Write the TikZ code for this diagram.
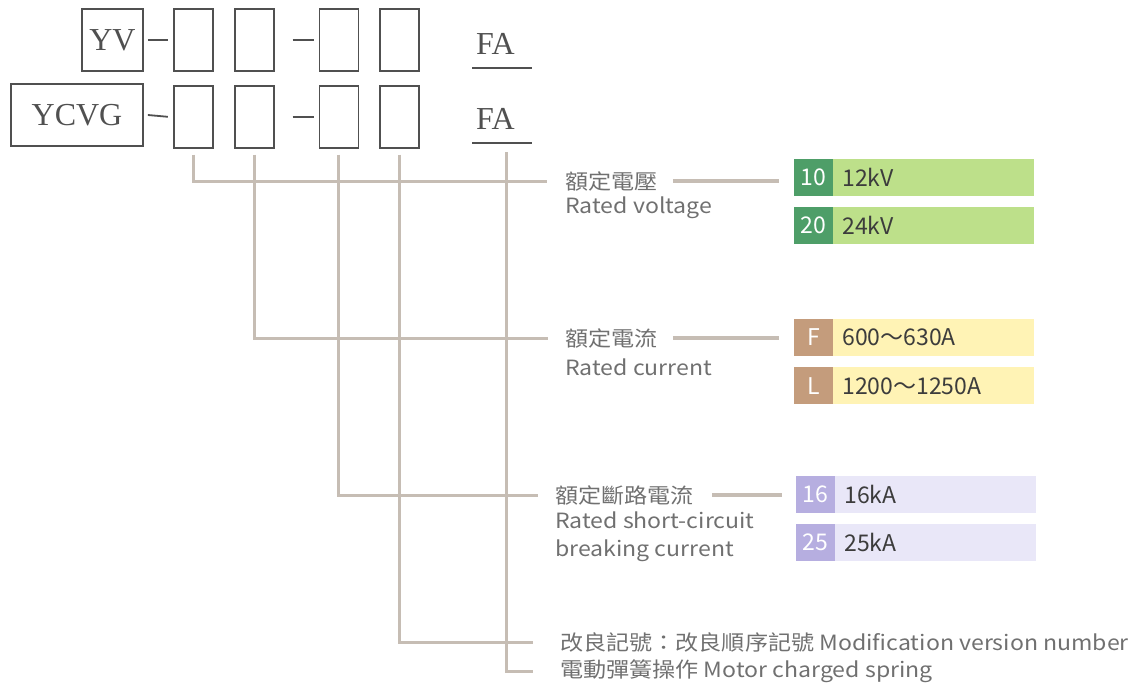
\documentclass[tikz,border=0pt]{standalone}
\usepackage{fontspec}
\setmainfont{Liberation Serif}
\newfontfamily\cjk{Noto Sans CJK TC}
\newfontfamily\cjkwide[FakeStretch=1.1]{Noto Sans CJK TC}
\usetikzlibrary{positioning}
\definecolor{framegray}{HTML}{505050}
\definecolor{treebeige}{HTML}{C6BDB4}
\definecolor{labelgray}{HTML}{707070}
\definecolor{valuegray}{HTML}{3C3C3C}
\definecolor{voltdark}{HTML}{4E9E68}
\definecolor{voltlight}{HTML}{BDE08A}
\definecolor{currdark}{HTML}{C49C7C}
\definecolor{currlight}{HTML}{FFF3B5}
\definecolor{breakdark}{HTML}{B6AEE0}
\definecolor{breaklight}{HTML}{E9E7F8}
\tikzset{
    modelbox/.style={draw=framegray,line width=1.8pt,inner sep=0pt,minimum height=62pt,text=framegray,font=\fontsize{32}{32}\selectfont},
    slotbox/.style={modelbox,minimum width=39pt},
    suffix/.style={inner xsep=4pt,inner ysep=0pt,text width=52pt,align=left,text=framegray,font=\fontsize{32}{32}\selectfont},
    joiner/.style={draw=framegray,line width=1.8pt},
    tree/.style={draw=treebeige,line width=3pt},
    lead/.style={draw=treebeige,line width=3.5pt},
    caption/.style={inner sep=0pt,anchor=west,align=left,text=labelgray,font=\cjkwide\fontsize{21}{28}\selectfont},
    codecell/.style={inner sep=0pt,minimum width=39pt,minimum height=37pt,text=white,font=\cjk\fontsize{23}{23}\selectfont},
    valuecell/.style={inner xsep=9pt,inner ysep=0pt,minimum width=201pt,minimum height=37pt,text width=183pt,align=left,text=valuegray,font=\cjk\fontsize{23}{23}\selectfont},
}
\begin{document}
\begin{tikzpicture}[x=1pt,y=-1pt]
\useasboundingbox (0,0) rectangle (1141,683);

% model number rows
\node[modelbox,minimum width=61pt] (yv) at (112.5,40) {YV};
\node[slotbox,right=29pt of yv] (a1) {};
\node[slotbox,right=20pt of a1] (a2) {};
\node[slotbox,right=44pt of a2] (a3) {};
\node[slotbox,right=20pt of a3] (a4) {};
\draw[joiner] ([xshift=4pt]yv.east) -- ([xshift=-5pt]a1.west);
\draw[joiner] ([xshift=18pt]a2.east) -- ([xshift=-5pt]a3.west);
\node[suffix,anchor=base west] (fa1) at (472,54) {FA};
\draw[joiner] ([yshift=-14pt]fa1.base west) -- ([yshift=-14pt]fa1.base east);

\node[modelbox,minimum width=132pt] (ycvg) at (77,115) {YCVG};
\node[slotbox,below=13pt of a1] (b1) {};
\node[slotbox,below=13pt of a2] (b2) {};
\node[slotbox,below=13pt of a3] (b3) {};
\node[slotbox,below=13pt of a4] (b4) {};
\draw[joiner] ([xshift=4pt]ycvg.east) -- ([xshift=-5pt]b1.west);
\draw[joiner] ([xshift=18pt]b2.east) -- ([xshift=-5pt]b3.west);
\node[suffix,anchor=base west] (fa2) at (472,129) {FA};
\draw[joiner] ([yshift=-14pt]fa2.base west) -- ([yshift=-14pt]fa2.base east);
\coordinate (fadrop) at (506,152);

% captions
\node[caption] (voltT) at (565,181) {額定電壓};
\node[caption] (voltE) at (565,208) {Rated voltage};
\node[caption] (currT) at (565,338) {額定電流};
\node[caption] (currE) at (565,367) {Rated current};
\node[caption] (breakT) at (555,495) {額定斷路電流};
\node[caption] (breakE) at (555,537) {Rated short-circuit\\breaking current};
\node[caption] (modT) at (560,642) {改良記號：改良順序記號 Modification version number};
\node[caption] (motT) at (560,671) {電動彈簧操作 Motor charged spring};

% code tables
\node[codecell,fill=voltdark] (v10) at (813.5,177) {10};
\node[valuecell,fill=voltlight,right=0pt of v10] (v10val) {12kV};
\node[codecell,fill=voltdark,below=11pt of v10] (v20) {20};
\node[valuecell,fill=voltlight,right=0pt of v20] (v20val) {24kV};

\node[codecell,fill=currdark] (cF) at (813.5,337.5) {F};
\node[valuecell,fill=currlight,right=0pt of cF] (cFval) {600～630A};
\node[codecell,fill=currdark,below=11pt of cF] (cL) {L};
\node[valuecell,fill=currlight,right=0pt of cL] (cLval) {1200～1250A};

\node[codecell,fill=breakdark] (k16) at (815.5,494) {16};
\node[valuecell,fill=breaklight,right=0pt of k16] (k16val) {16kA};
\node[codecell,fill=breakdark,below=11pt of k16] (k25) {25};
\node[valuecell,fill=breaklight,right=0pt of k25] (k25val) {25kA};

% connectors
\draw[tree] ([yshift=-6pt]b1.south) |- ([xshift=-18pt]voltT.west);
\draw[tree] ([yshift=-6pt]b2.south) |- ([xshift=-17pt]currT.west);
\draw[tree] ([yshift=-6pt]b3.south) |- ([xshift=-17pt]breakT.west);
\draw[tree] ([yshift=-6pt]b4.south) |- ([xshift=-27pt]modT.west);
\draw[tree] (fadrop) |- ([xshift=-27pt]motT.west);

\draw[lead] ([xshift=15pt]voltT.east) -- ([xshift=-15pt]voltT.east -| v10.west);
\draw[lead] ([xshift=15pt]currT.east) -- ([xshift=-15pt]currT.east -| cF.west);
\draw[lead] ([xshift=18pt]breakT.east) -- ([xshift=-14pt]breakT.east -| k16.west);
\end{tikzpicture}
\end{document}
